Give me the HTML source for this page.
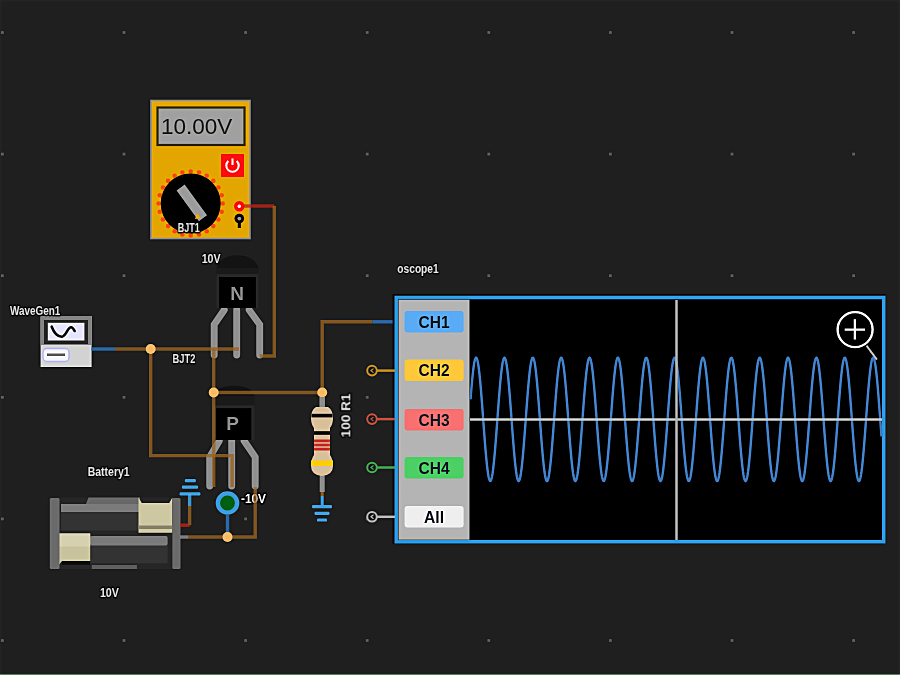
<!DOCTYPE html>
<html><head><meta charset="utf-8"><style>
html,body{margin:0;padding:0;background:#1f1f1f;width:900px;height:675px;overflow:hidden}
svg{display:block;font-family:"Liberation Sans",sans-serif}
</style></head><body>
<svg width="900" height="675" viewBox="0 0 900 675">
<defs><filter id="b1" filterUnits="userSpaceOnUse" x="0" y="0" width="900" height="675" color-interpolation-filters="sRGB"><feGaussianBlur in="SourceGraphic" stdDeviation="0.7" result="a"/><feGaussianBlur in="a" stdDeviation="1.6" result="b"/><feComposite in="a" in2="b" operator="arithmetic" k1="0" k2="1.45" k3="-0.45" k4="0"/></filter>
<filter id="b2" filterUnits="userSpaceOnUse" x="0" y="0" width="900" height="675"><feGaussianBlur stdDeviation="0.55"/></filter></defs>
<g filter="url(#b1)"><rect width="900" height="675" fill="#1f1f1f"/>
<rect x="1.0" y="31.1" width="2.8" height="2.8" fill="#555"/>
<rect x="1.0" y="152.7" width="2.8" height="2.8" fill="#555"/>
<rect x="1.0" y="274.3" width="2.8" height="2.8" fill="#555"/>
<rect x="1.0" y="395.9" width="2.8" height="2.8" fill="#555"/>
<rect x="1.0" y="517.5" width="2.8" height="2.8" fill="#555"/>
<rect x="1.0" y="639.1" width="2.8" height="2.8" fill="#555"/>
<rect x="122.6" y="31.1" width="2.8" height="2.8" fill="#555"/>
<rect x="122.6" y="152.7" width="2.8" height="2.8" fill="#555"/>
<rect x="122.6" y="274.3" width="2.8" height="2.8" fill="#555"/>
<rect x="122.6" y="395.9" width="2.8" height="2.8" fill="#555"/>
<rect x="122.6" y="517.5" width="2.8" height="2.8" fill="#555"/>
<rect x="122.6" y="639.1" width="2.8" height="2.8" fill="#555"/>
<rect x="244.2" y="31.1" width="2.8" height="2.8" fill="#555"/>
<rect x="244.2" y="152.7" width="2.8" height="2.8" fill="#555"/>
<rect x="244.2" y="274.3" width="2.8" height="2.8" fill="#555"/>
<rect x="244.2" y="395.9" width="2.8" height="2.8" fill="#555"/>
<rect x="244.2" y="517.5" width="2.8" height="2.8" fill="#555"/>
<rect x="244.2" y="639.1" width="2.8" height="2.8" fill="#555"/>
<rect x="365.8" y="31.1" width="2.8" height="2.8" fill="#555"/>
<rect x="365.8" y="152.7" width="2.8" height="2.8" fill="#555"/>
<rect x="365.8" y="274.3" width="2.8" height="2.8" fill="#555"/>
<rect x="365.8" y="395.9" width="2.8" height="2.8" fill="#555"/>
<rect x="365.8" y="517.5" width="2.8" height="2.8" fill="#555"/>
<rect x="365.8" y="639.1" width="2.8" height="2.8" fill="#555"/>
<rect x="487.4" y="31.1" width="2.8" height="2.8" fill="#555"/>
<rect x="487.4" y="152.7" width="2.8" height="2.8" fill="#555"/>
<rect x="487.4" y="274.3" width="2.8" height="2.8" fill="#555"/>
<rect x="487.4" y="395.9" width="2.8" height="2.8" fill="#555"/>
<rect x="487.4" y="517.5" width="2.8" height="2.8" fill="#555"/>
<rect x="487.4" y="639.1" width="2.8" height="2.8" fill="#555"/>
<rect x="609.0" y="31.1" width="2.8" height="2.8" fill="#555"/>
<rect x="609.0" y="152.7" width="2.8" height="2.8" fill="#555"/>
<rect x="609.0" y="274.3" width="2.8" height="2.8" fill="#555"/>
<rect x="609.0" y="395.9" width="2.8" height="2.8" fill="#555"/>
<rect x="609.0" y="517.5" width="2.8" height="2.8" fill="#555"/>
<rect x="609.0" y="639.1" width="2.8" height="2.8" fill="#555"/>
<rect x="730.6" y="31.1" width="2.8" height="2.8" fill="#555"/>
<rect x="730.6" y="152.7" width="2.8" height="2.8" fill="#555"/>
<rect x="730.6" y="274.3" width="2.8" height="2.8" fill="#555"/>
<rect x="730.6" y="395.9" width="2.8" height="2.8" fill="#555"/>
<rect x="730.6" y="517.5" width="2.8" height="2.8" fill="#555"/>
<rect x="730.6" y="639.1" width="2.8" height="2.8" fill="#555"/>
<rect x="852.2" y="31.1" width="2.8" height="2.8" fill="#555"/>
<rect x="852.2" y="152.7" width="2.8" height="2.8" fill="#555"/>
<rect x="852.2" y="274.3" width="2.8" height="2.8" fill="#555"/>
<rect x="852.2" y="395.9" width="2.8" height="2.8" fill="#555"/>
<rect x="852.2" y="517.5" width="2.8" height="2.8" fill="#555"/>
<rect x="852.2" y="639.1" width="2.8" height="2.8" fill="#555"/>
<path d="M224.2,310 L214.2,324.5 L214.2,355" stroke="#8e8e8e" stroke-width="6.9" fill="none" stroke-linecap="round"/>
<path d="M236.7,310 L236.7,355" stroke="#8e8e8e" stroke-width="6.9" fill="none" stroke-linecap="round"/>
<path d="M249.2,310 L259.7,324.5 L259.7,355" stroke="#8e8e8e" stroke-width="6.9" fill="none" stroke-linecap="round"/>
<path d="M219.2,441 L209.7,457 L209.7,486" stroke="#8e8e8e" stroke-width="6.9" fill="none" stroke-linecap="round"/>
<path d="M231.7,441 L231.7,486" stroke="#8e8e8e" stroke-width="6.9" fill="none" stroke-linecap="round"/>
<path d="M244.2,441 L255.2,457 L255.2,486" stroke="#8e8e8e" stroke-width="6.9" fill="none" stroke-linecap="round"/>
<path d="M216.4,268.3 C219.76,251 255.04,251 258.4,268.3 Z" fill="#131313"/>
<rect x="216.4" y="268.3" width="41.99999999999997" height="7.699999999999989" fill="#1a1a1a"/>
<rect x="216.4" y="274" width="41.99999999999997" height="34" fill="#262626"/>
<rect x="219" y="277" width="36.80000000000001" height="31" fill="#000"/>
<text x="237.2" y="299.5" font-size="19" font-weight="bold" fill="#858585" text-anchor="middle">N</text>
<path d="M213,395.7 C216.32,382 251.18,382 254.5,395.7 Z" fill="#131313"/>
<rect x="213" y="395.7" width="41.5" height="11.5" fill="#1a1a1a"/>
<rect x="213" y="405.2" width="41.5" height="34.80000000000001" fill="#262626"/>
<rect x="216.1" y="408.2" width="35.20000000000002" height="31.80000000000001" fill="#000"/>
<text x="232.7" y="430.3" font-size="19" font-weight="bold" fill="#858585" text-anchor="middle">P</text>
<rect x="151" y="100.5" width="99" height="138" fill="#e3a600" stroke="#8a8a8a" stroke-width="1.6"/>
<rect x="157.5" y="107.5" width="87" height="37.5" fill="#a0a0a0" stroke="#3a3000" stroke-width="2.2"/>
<text x="161" y="134" font-size="22.5" fill="#262626">10.00V</text>
<rect x="221" y="154" width="23" height="23" fill="#ff1010"/>
<path d="M228.3,161 A6.2,6.2 0 1 0 236.7,161" stroke="#fff" stroke-width="2" fill="none"/>
<path d="M232.5,158.5 L232.5,165" stroke="#fff" stroke-width="2"/>
<circle cx="222.7" cy="203.5" r="2.3" fill="#ff4a10"/>
<circle cx="221.6" cy="211.8" r="2.3" fill="#ff4a10"/>
<circle cx="218.4" cy="219.5" r="2.3" fill="#ff4a10"/>
<circle cx="213.3" cy="226.1" r="2.3" fill="#ff4a10"/>
<circle cx="206.7" cy="231.2" r="2.3" fill="#ff4a10"/>
<circle cx="199.0" cy="234.4" r="2.3" fill="#ff4a10"/>
<circle cx="190.7" cy="235.5" r="2.3" fill="#ff4a10"/>
<circle cx="182.4" cy="234.4" r="2.3" fill="#ff4a10"/>
<circle cx="174.7" cy="231.2" r="2.3" fill="#ff4a10"/>
<circle cx="168.1" cy="226.1" r="2.3" fill="#ff4a10"/>
<circle cx="163.0" cy="219.5" r="2.3" fill="#ff4a10"/>
<circle cx="159.8" cy="211.8" r="2.3" fill="#ff4a10"/>
<circle cx="158.7" cy="203.5" r="2.3" fill="#ff4a10"/>
<circle cx="159.8" cy="195.2" r="2.3" fill="#ff4a10"/>
<circle cx="163.0" cy="187.5" r="2.3" fill="#ff4a10"/>
<circle cx="168.1" cy="180.9" r="2.3" fill="#ff4a10"/>
<circle cx="174.7" cy="175.8" r="2.3" fill="#ff4a10"/>
<circle cx="182.4" cy="172.6" r="2.3" fill="#ff4a10"/>
<circle cx="190.7" cy="171.5" r="2.3" fill="#ff4a10"/>
<circle cx="199.0" cy="172.6" r="2.3" fill="#ff4a10"/>
<circle cx="206.7" cy="175.8" r="2.3" fill="#ff4a10"/>
<circle cx="213.3" cy="180.9" r="2.3" fill="#ff4a10"/>
<circle cx="218.4" cy="187.5" r="2.3" fill="#ff4a10"/>
<circle cx="221.6" cy="195.2" r="2.3" fill="#ff4a10"/>
<circle cx="190.7" cy="203.5" r="30" fill="#000"/>
<g transform="rotate(-36 191.5 202.5)"><rect x="186.5" y="184" width="10" height="38" fill="#9a9a9a"/></g>
<path d="M197,213 L201,218 L195,219 Z" fill="#e3a600"/>
<circle cx="239.3" cy="206.2" r="5.2" fill="#ff1010"/><circle cx="239.3" cy="206.2" r="1.7" fill="#fff"/>
<path d="M239.3,218 L239.3,228" stroke="#000" stroke-width="3"/>
<circle cx="239.3" cy="218.6" r="4.8" fill="#000"/><circle cx="239.3" cy="218.6" r="1.9" fill="#8a8a8a"/>
<rect x="40.6" y="316" width="51" height="51" fill="#d2d2d2"/>
<rect x="40.6" y="316" width="51" height="29" fill="#7e7e7e"/>
<rect x="44" y="320" width="44" height="24" fill="#2a2a2a"/>
<rect x="47.8" y="322.8" width="36.6" height="17.7" fill="#e4e4ff"/>
<path d="M51.7,326.7 C54.5,334 57.5,336.7 61.7,336.7 C66,336.7 67.5,327.2 71.1,327.2 C72.6,327.2 73.6,329 74.6,331" stroke="#1a1a1a" stroke-width="2.6" fill="none" stroke-linecap="round"/>
<rect x="43" y="348.5" width="26" height="13" rx="4" fill="#f2f2ff" stroke="#b8b8f0" stroke-width="1.5"/>
<rect x="47" y="353.5" width="18" height="2.5" fill="#666"/>
<rect x="50" y="497.5" width="130" height="71.5" fill="#262626"/>
<rect x="61" y="504" width="79" height="26.5" fill="#333"/>
<rect x="61" y="504" width="79" height="8" fill="#7a7a7a"/>
<path d="M86,504 L88.5,497.5 L140,497.5 L140,504 Z" fill="#686868"/>
<path d="M138.5,497.5 L141.8,503 L169.2,503 L172.4,497.5 L172.4,532.7 L138.5,532.7 Z" fill="#cdc7a2"/>
<rect x="138.5" y="525.5" width="33.9" height="3.5" fill="#8c846c"/>
<rect x="90" y="536" width="77.6" height="27.4" fill="#333"/>
<rect x="90" y="536" width="77.6" height="9.6" rx="2" fill="#7a7a7a"/>
<path d="M57.9,533.5 L90.2,533.5 L90.2,561 L62,561 L57.9,566 Z" fill="#c9c39d"/>
<rect x="57.9" y="533.5" width="32.3" height="13" fill="#d5d0b0"/>
<rect x="62" y="561" width="28.2" height="4" fill="#111"/>
<rect x="91.8" y="565" width="45.1" height="4" fill="#5a5a5a"/>
<rect x="49.8" y="498" width="9.7" height="71" rx="1.5" fill="#6a6a6a"/>
<rect x="172.4" y="498" width="8.1" height="71" rx="1.5" fill="#6a6a6a"/>
<rect x="184.8" y="479.09999999999997" width="11.099999999999994" height="3.2" rx="1.2" fill="#3a9ad9"/>
<rect x="181.9" y="485.5" width="16.19999999999999" height="3.2" rx="1.2" fill="#3a9ad9"/>
<rect x="179.6" y="492.2" width="20.80000000000001" height="3.2" rx="1.2" fill="#3a9ad9"/>
<text x="241" y="503.3" font-size="12" font-weight="bold" fill="#f0f0f0" stroke="#000" stroke-width="2.8" stroke-linejoin="round" paint-order="stroke" textLength="25" lengthAdjust="spacingAndGlyphs">-10V</text>
<path d="M244,206 L274.3,206" stroke="#be2417" stroke-opacity="0.75" stroke-width="3.4" fill="none" stroke-linejoin="miter"/>
<path d="M274.3,206 L274.3,356 L259.8,356" stroke="#986320" stroke-opacity="0.75" stroke-width="3.4" fill="none" stroke-linejoin="miter"/>
<path d="M91,349 L115,349" stroke="#2b7bcb" stroke-opacity="0.75" stroke-width="3.4" fill="none" stroke-linejoin="miter"/>
<path d="M115,349 L239,349" stroke="#986320" stroke-opacity="0.75" stroke-width="3.4" fill="none" stroke-linejoin="miter"/>
<path d="M150.7,349 L150.7,455.6 L232.2,455.6 L232.2,487" stroke="#986320" stroke-opacity="0.75" stroke-width="3.4" fill="none" stroke-linejoin="miter"/>
<path d="M213.7,349 L213.7,487" stroke="#986320" stroke-opacity="0.75" stroke-width="3.4" fill="none" stroke-linejoin="miter"/>
<path d="M213.7,392.5 L322.2,392.5" stroke="#986320" stroke-opacity="0.75" stroke-width="3.4" fill="none" stroke-linejoin="miter"/>
<path d="M322.2,392.5 L322.2,321.8 L372.4,321.8" stroke="#986320" stroke-opacity="0.75" stroke-width="3.4" fill="none" stroke-linejoin="miter"/>
<path d="M372.4,321.8 L395,321.8" stroke="#2b7bcb" stroke-opacity="0.75" stroke-width="3.4" fill="none" stroke-linejoin="miter"/>
<path d="M255.2,487 L255.2,537 L188.5,537" stroke="#986320" stroke-opacity="0.75" stroke-width="3.4" fill="none" stroke-linejoin="miter"/>
<path d="M180,537 L188.5,537" stroke="#949494" stroke-opacity="0.75" stroke-width="3.4" fill="none" stroke-linejoin="miter"/>
<path d="M227.5,515 L227.5,537" stroke="#2b7bcb" stroke-opacity="0.75" stroke-width="3.4" fill="none" stroke-linejoin="miter"/>
<path d="M189.6,494 L189.6,506" stroke="#46b0f5" stroke-opacity="0.75" stroke-width="3.4" fill="none" stroke-linejoin="miter"/>
<path d="M189.6,506 L189.6,525.2" stroke="#986320" stroke-opacity="0.75" stroke-width="3.4" fill="none" stroke-linejoin="miter"/>
<path d="M180,525.2 L189.6,525.2" stroke="#be2417" stroke-opacity="0.75" stroke-width="3.4" fill="none" stroke-linejoin="miter"/>
<circle cx="150.7" cy="349" r="5" fill="#f3b865"/>
<circle cx="213.7" cy="392.5" r="5" fill="#f3b865"/>
<circle cx="322.2" cy="392.5" r="5" fill="#f3b865"/>
<circle cx="227.5" cy="537" r="5" fill="#f3b865"/>
<circle cx="227.5" cy="503" r="9.6" fill="#006014" stroke="#3a9ad9" stroke-width="4.4"/>
<path d="M322.2,397 L322.2,410" stroke="#8a8a8a" stroke-width="5.5"/>
<path d="M322.2,474 L322.2,492" stroke="#8a8a8a" stroke-width="5"/>
<path d="M322.2,492 L322.2,496" stroke="#8c5a1e" stroke-width="3"/>
<path d="M322.2,496 L322.2,506" stroke="#3a9ad9" stroke-width="3"/>
<path d="M316,407 Q311,410 311,418 Q311,424 314,428 L314,455 Q311,459 311,466 Q311,475 322,476 Q333,475 333,466 Q333,459 330,455 L330,428 Q333,424 333,418 Q333,410 328,407 Z" fill="#d8bf9a"/>
<rect x="311.5" y="413.8" width="21" height="3.6" fill="#0a0a0a"/>
<rect x="314" y="431.2" width="16" height="3.6" fill="#0a0a0a"/>
<rect x="314" y="439.5" width="16" height="2.8" fill="#c8302a"/>
<rect x="314" y="443.6" width="16" height="2.8" fill="#c8302a"/>
<rect x="314" y="447.7" width="16" height="2.8" fill="#c8302a"/>
<rect x="311" y="460.5" width="22" height="5.5" fill="#ffcc00"/>
<rect x="312" y="505.09999999999997" width="20" height="3.2" rx="1.2" fill="#3a9ad9"/>
<rect x="314.5" y="511.69999999999993" width="15.0" height="3.2" rx="1.2" fill="#3a9ad9"/>
<rect x="317" y="518.4" width="10" height="3.2" rx="1.2" fill="#3a9ad9"/>
<rect x="392.6" y="294" width="493" height="250" fill="#120c06"/>
<rect x="396.3" y="297.5" width="487.4" height="244.2" fill="#000" stroke="#2b96de" stroke-width="3.6"/>
<rect x="398.5" y="299.7" width="71" height="240" fill="#b4b4b4"/>
<rect x="404.6" y="311" width="59" height="21.5" rx="3" fill="#5aabf5"/>
<text x="418.5" y="327.8" font-size="16.5" font-weight="bold" fill="#1a222c" textLength="31" lengthAdjust="spacingAndGlyphs">CH1</text>
<rect x="404.6" y="359.6" width="59" height="21.5" rx="3" fill="#ffc83a"/>
<text x="418.5" y="376.40000000000003" font-size="16.5" font-weight="bold" fill="#1a222c" textLength="31" lengthAdjust="spacingAndGlyphs">CH2</text>
<rect x="404.6" y="409" width="59" height="21.5" rx="3" fill="#f87070"/>
<text x="418.5" y="425.8" font-size="16.5" font-weight="bold" fill="#1a222c" textLength="31" lengthAdjust="spacingAndGlyphs">CH3</text>
<rect x="404.6" y="457" width="59" height="21.5" rx="3" fill="#4ccf64"/>
<text x="418.5" y="473.8" font-size="16.5" font-weight="bold" fill="#1a222c" textLength="31" lengthAdjust="spacingAndGlyphs">CH4</text>
<rect x="404.6" y="506" width="59" height="21.5" rx="3" fill="#eeeeee"/>
<text x="424.0" y="522.8" font-size="16.5" font-weight="bold" fill="#1a222c" textLength="20" lengthAdjust="spacingAndGlyphs">All</text>
<path d="M372,370.6 L395,370.6" stroke="#b8861e" stroke-width="2.5"/>
<circle cx="372" cy="370.6" r="4.8" fill="#1e1e1e" stroke="#b8861e" stroke-width="2"/>
<path d="M373.5,368.6 L371,370.6 L373.5,372.6" stroke="#b8861e" stroke-width="1.2" fill="none"/>
<path d="M372,419.1 L395,419.1" stroke="#b84a3a" stroke-width="2.5"/>
<circle cx="372" cy="419.1" r="4.8" fill="#1e1e1e" stroke="#b84a3a" stroke-width="2"/>
<path d="M373.5,417.1 L371,419.1 L373.5,421.1" stroke="#b84a3a" stroke-width="1.2" fill="none"/>
<path d="M372,467.5 L395,467.5" stroke="#3aa04a" stroke-width="2.5"/>
<circle cx="372" cy="467.5" r="4.8" fill="#1e1e1e" stroke="#3aa04a" stroke-width="2"/>
<path d="M373.5,465.5 L371,467.5 L373.5,469.5" stroke="#3aa04a" stroke-width="1.2" fill="none"/>
<path d="M372,516.8 L395,516.8" stroke="#aaaaaa" stroke-width="2.5"/>
<circle cx="372" cy="516.8" r="4.8" fill="#1e1e1e" stroke="#aaaaaa" stroke-width="2"/>
<path d="M373.5,514.8 L371,516.8 L373.5,518.8" stroke="#aaaaaa" stroke-width="1.2" fill="none"/>
<path d="M470.50,399.43 L471.00,393.11 L471.50,387.12 L472.00,381.51 L472.50,376.38 L473.00,371.77 L473.50,367.74 L474.00,364.35 L474.50,361.63 L475.00,359.62 L475.50,358.34 L476.00,357.82 L476.50,358.04 L477.00,359.02 L477.50,360.74 L478.00,363.18 L478.50,366.30 L479.00,370.08 L479.50,374.47 L480.00,379.40 L480.50,384.82 L481.00,390.67 L481.50,396.87 L482.00,403.35 L482.50,410.02 L483.00,416.81 L483.50,423.63 L484.00,430.40 L484.50,437.03 L485.00,443.45 L485.50,449.57 L486.00,455.32 L486.50,460.63 L487.00,465.44 L487.50,469.68 L488.00,473.31 L488.50,476.27 L489.00,478.54 L489.50,480.08 L490.00,480.88 L490.50,480.93 L491.00,480.22 L491.50,478.76 L492.00,476.58 L492.50,473.70 L493.00,470.15 L493.50,465.98 L494.00,461.24 L494.50,455.98 L495.00,450.28 L495.50,444.20 L496.00,437.81 L496.50,431.20 L497.00,424.44 L497.50,417.63 L498.00,410.83 L498.50,404.14 L499.00,397.63 L499.50,391.40 L500.00,385.50 L500.50,380.03 L501.00,375.03 L501.50,370.58 L502.00,366.72 L502.50,363.52 L503.00,360.99 L503.50,359.19 L504.00,358.12 L504.50,357.80 L505.00,358.24 L505.50,359.43 L506.00,361.35 L506.50,363.99 L507.00,367.30 L507.50,371.25 L508.00,375.79 L508.50,380.87 L509.00,386.42 L509.50,392.37 L510.00,398.66 L510.50,405.20 L511.00,411.91 L511.50,418.72 L512.00,425.53 L512.50,432.27 L513.00,438.85 L513.50,445.19 L514.00,451.22 L514.50,456.85 L515.00,462.03 L515.50,466.69 L516.00,470.76 L516.50,474.21 L517.00,476.98 L517.50,479.05 L518.00,480.38 L518.50,480.97 L519.00,480.80 L519.50,479.89 L520.00,478.22 L520.50,475.84 L521.00,472.77 L521.50,469.04 L522.00,464.71 L522.50,459.81 L523.00,454.43 L523.50,448.61 L524.00,442.44 L524.50,435.98 L525.00,429.32 L525.50,422.54 L526.00,415.72 L526.50,408.94 L527.00,402.30 L527.50,395.86 L528.00,389.71 L528.50,383.92 L529.00,378.58 L529.50,373.73 L530.00,369.44 L530.50,365.76 L531.00,362.74 L531.50,360.42 L532.00,358.81 L532.50,357.95 L533.00,357.85 L533.50,358.50 L534.00,359.89 L534.50,362.02 L535.00,364.85 L535.50,368.34 L536.00,372.47 L536.50,377.16 L537.00,382.38 L537.50,388.05 L538.00,394.10 L538.50,400.47 L539.00,407.06 L539.50,413.81 L540.00,420.63 L540.50,427.43 L541.00,434.13 L541.50,440.65 L542.00,446.91 L542.50,452.84 L543.00,458.35 L543.50,463.39 L544.00,467.89 L544.50,471.79 L545.00,475.05 L545.50,477.63 L546.00,479.49 L546.50,480.62 L547.00,481.00 L547.50,480.62 L548.00,479.49 L548.50,477.63 L549.00,475.05 L549.50,471.79 L550.00,467.89 L550.50,463.39 L551.00,458.35 L551.50,452.84 L552.00,446.91 L552.50,440.65 L553.00,434.13 L553.50,427.43 L554.00,420.63 L554.50,413.81 L555.00,407.06 L555.50,400.47 L556.00,394.10 L556.50,388.05 L557.00,382.38 L557.50,377.16 L558.00,372.47 L558.50,368.34 L559.00,364.85 L559.50,362.02 L560.00,359.89 L560.50,358.50 L561.00,357.85 L561.50,357.95 L562.00,358.81 L562.50,360.42 L563.00,362.74 L563.50,365.76 L564.00,369.44 L564.50,373.73 L565.00,378.58 L565.50,383.92 L566.00,389.71 L566.50,395.86 L567.00,402.30 L567.50,408.94 L568.00,415.72 L568.50,422.54 L569.00,429.32 L569.50,435.98 L570.00,442.44 L570.50,448.61 L571.00,454.43 L571.50,459.81 L572.00,464.71 L572.50,469.04 L573.00,472.77 L573.50,475.84 L574.00,478.22 L574.50,479.89 L575.00,480.80 L575.50,480.97 L576.00,480.38 L576.50,479.05 L577.00,476.98 L577.50,474.21 L578.00,470.76 L578.50,466.69 L579.00,462.03 L579.50,456.85 L580.00,451.22 L580.50,445.19 L581.00,438.85 L581.50,432.27 L582.00,425.53 L582.50,418.72 L583.00,411.91 L583.50,405.20 L584.00,398.66 L584.50,392.37 L585.00,386.42 L585.50,380.87 L586.00,375.79 L586.50,371.25 L587.00,367.30 L587.50,363.99 L588.00,361.35 L588.50,359.43 L589.00,358.24 L589.50,357.80 L590.00,358.12 L590.50,359.19 L591.00,360.99 L591.50,363.52 L592.00,366.72 L592.50,370.58 L593.00,375.03 L593.50,380.03 L594.00,385.50 L594.50,391.40 L595.00,397.63 L595.50,404.14 L596.00,410.83 L596.50,417.63 L597.00,424.44 L597.50,431.20 L598.00,437.81 L598.50,444.20 L599.00,450.28 L599.50,455.98 L600.00,461.24 L600.50,465.98 L601.00,470.15 L601.50,473.70 L602.00,476.58 L602.50,478.76 L603.00,480.22 L603.50,480.93 L604.00,480.88 L604.50,480.08 L605.00,478.54 L605.50,476.27 L606.00,473.31 L606.50,469.68 L607.00,465.44 L607.50,460.63 L608.00,455.32 L608.50,449.57 L609.00,443.45 L609.50,437.03 L610.00,430.40 L610.50,423.63 L611.00,416.81 L611.50,410.02 L612.00,403.35 L612.50,396.87 L613.00,390.67 L613.50,384.82 L614.00,379.40 L614.50,374.47 L615.00,370.08 L615.50,366.30 L616.00,363.18 L616.50,360.74 L617.00,359.02 L617.50,358.04 L618.00,357.82 L618.50,358.34 L619.00,359.62 L619.50,361.63 L620.00,364.35 L620.50,367.74 L621.00,371.77 L621.50,376.38 L622.00,381.51 L622.50,387.12 L623.00,393.11 L623.50,399.43 L624.00,406.00 L624.50,412.73 L625.00,419.54 L625.50,426.35 L626.00,433.07 L626.50,439.63 L627.00,445.93 L627.50,451.92 L628.00,457.50 L628.50,462.62 L629.00,467.21 L629.50,471.21 L630.00,474.57 L630.50,477.26 L631.00,479.25 L631.50,480.49 L632.00,480.99 L632.50,480.73 L633.00,479.72 L633.50,477.98 L634.00,475.51 L634.50,472.36 L635.00,468.55 L635.50,464.15 L636.00,459.19 L636.50,453.75 L637.00,447.89 L637.50,441.67 L638.00,435.19 L638.50,428.51 L639.00,421.72 L639.50,414.90 L640.00,408.14 L640.50,401.51 L641.00,395.10 L641.50,388.99 L642.00,383.26 L642.50,377.97 L643.00,373.18 L643.50,368.96 L644.00,365.36 L644.50,362.42 L645.00,360.18 L645.50,358.67 L646.00,357.90 L646.50,357.89 L647.00,358.63 L647.50,360.11 L648.00,362.32 L648.50,365.23 L649.00,368.81 L649.50,373.00 L650.00,377.76 L650.50,383.04 L651.00,388.76 L651.50,394.85 L652.00,401.25 L652.50,407.87 L653.00,414.63 L653.50,421.45 L654.00,428.24 L654.50,434.93 L655.00,441.42 L655.50,447.65 L656.00,453.52 L656.50,458.98 L657.00,463.96 L657.50,468.39 L658.00,472.22 L658.50,475.40 L659.00,477.89 L659.50,479.67 L660.00,480.71 L660.50,480.99 L661.00,480.53 L661.50,479.31 L662.00,477.36 L662.50,474.70 L663.00,471.35 L663.50,467.38 L664.00,462.81 L664.50,457.72 L665.00,452.15 L665.50,446.18 L666.00,439.88 L666.50,433.34 L667.00,426.62 L667.50,419.81 L668.00,413.00 L668.50,406.26 L669.00,399.69 L669.50,393.36 L670.00,387.35 L670.50,381.73 L671.00,376.57 L671.50,371.94 L672.00,367.89 L672.50,364.47 L673.00,361.73 L673.50,359.69 L674.00,358.38 L674.50,357.82 L675.00,358.02 L675.50,358.97 L676.00,360.66 L676.50,363.07 L677.00,366.17 L677.50,369.92 L678.00,374.28 L678.50,379.19 L679.00,384.60 L679.50,390.43 L680.00,396.62 L680.50,403.08 L681.00,409.75 L681.50,416.54 L682.00,423.36 L682.50,430.13 L683.00,436.77 L683.50,443.19 L684.00,449.33 L684.50,455.10 L685.00,460.43 L685.50,465.26 L686.00,469.52 L686.50,473.17 L687.00,476.17 L687.50,478.46 L688.00,480.03 L688.50,480.86 L689.00,480.94 L689.50,480.26 L690.00,478.84 L690.50,476.68 L691.00,473.83 L691.50,470.30 L692.00,466.16 L692.50,461.44 L693.00,456.20 L693.50,450.51 L694.00,444.45 L694.50,438.07 L695.00,431.47 L695.50,424.72 L696.00,417.90 L696.50,411.10 L697.00,404.40 L697.50,397.89 L698.00,391.64 L698.50,385.73 L699.00,380.24 L699.50,375.22 L700.00,370.74 L700.50,366.87 L701.00,363.63 L701.50,361.08 L702.00,359.25 L702.50,358.15 L703.00,357.80 L703.50,358.21 L704.00,359.37 L704.50,361.26 L705.00,363.87 L705.50,367.15 L706.00,371.08 L706.50,375.60 L707.00,380.66 L707.50,386.19 L708.00,392.13 L708.50,398.40 L709.00,404.93 L709.50,411.64 L710.00,418.44 L710.50,425.26 L711.00,432.00 L711.50,438.59 L712.00,444.94 L712.50,450.98 L713.00,456.64 L713.50,461.83 L714.00,466.51 L714.50,470.61 L715.00,474.08 L715.50,476.88 L716.00,478.98 L716.50,480.34 L717.00,480.96 L717.50,480.83 L718.00,479.94 L718.50,478.31 L719.00,475.95 L719.50,472.91 L720.00,469.20 L720.50,464.89 L721.00,460.02 L721.50,454.65 L722.00,448.85 L722.50,442.69 L723.00,436.24 L723.50,429.59 L724.00,422.81 L724.50,415.99 L725.00,409.21 L725.50,402.56 L726.00,396.11 L726.50,389.95 L727.00,384.15 L727.50,378.78 L728.00,373.91 L728.50,369.60 L729.00,365.89 L729.50,362.85 L730.00,360.49 L730.50,358.86 L731.00,357.97 L731.50,357.84 L732.00,358.46 L732.50,359.82 L733.00,361.92 L733.50,364.72 L734.00,368.19 L734.50,372.29 L735.00,376.97 L735.50,382.16 L736.00,387.82 L736.50,393.86 L737.00,400.21 L737.50,406.80 L738.00,413.54 L738.50,420.36 L739.00,427.16 L739.50,433.87 L740.00,440.40 L740.50,446.67 L741.00,452.61 L741.50,458.14 L742.00,463.20 L742.50,467.72 L743.00,471.65 L743.50,474.93 L744.00,477.54 L744.50,479.43 L745.00,480.59 L745.50,481.00 L746.00,480.65 L746.50,479.55 L747.00,477.72 L747.50,475.17 L748.00,471.93 L748.50,468.06 L749.00,463.58 L749.50,458.56 L750.00,453.07 L750.50,447.16 L751.00,440.91 L751.50,434.40 L752.00,427.70 L752.50,420.90 L753.00,414.08 L753.50,407.33 L754.00,400.73 L754.50,394.35 L755.00,388.29 L755.50,382.60 L756.00,377.36 L756.50,372.64 L757.00,368.50 L757.50,364.97 L758.00,362.12 L758.50,359.96 L759.00,358.54 L759.50,357.86 L760.00,357.94 L760.50,358.77 L761.00,360.34 L761.50,362.63 L762.00,365.63 L762.50,369.28 L763.00,373.54 L763.50,378.37 L764.00,383.70 L764.50,389.47 L765.00,395.61 L765.50,402.03 L766.00,408.67 L766.50,415.44 L767.00,422.26 L767.50,429.05 L768.00,435.72 L768.50,442.18 L769.00,448.37 L769.50,454.20 L770.00,459.61 L770.50,464.52 L771.00,468.88 L771.50,472.63 L772.00,475.73 L772.50,478.14 L773.00,479.83 L773.50,480.78 L774.00,480.98 L774.50,480.42 L775.00,479.11 L775.50,477.07 L776.00,474.33 L776.50,470.91 L777.00,466.86 L777.50,462.23 L778.00,457.07 L778.50,451.45 L779.00,445.44 L779.50,439.11 L780.00,432.54 L780.50,425.80 L781.00,418.99 L781.50,412.18 L782.00,405.46 L782.50,398.92 L783.00,392.62 L783.50,386.65 L784.00,381.08 L784.50,375.99 L785.00,371.42 L785.50,367.45 L786.00,364.10 L786.50,361.44 L787.00,359.49 L787.50,358.27 L788.00,357.81 L788.50,358.09 L789.00,359.13 L789.50,360.91 L790.00,363.40 L790.50,366.58 L791.00,370.41 L791.50,374.84 L792.00,379.82 L792.50,385.28 L793.00,391.15 L793.50,397.38 L794.00,403.87 L794.50,410.56 L795.00,417.35 L795.50,424.17 L796.00,430.93 L796.50,437.55 L797.00,443.95 L797.50,450.04 L798.00,455.76 L798.50,461.04 L799.00,465.80 L799.50,469.99 L800.00,473.57 L800.50,476.48 L801.00,478.69 L801.50,480.17 L802.00,480.91 L802.50,480.90 L803.00,480.13 L803.50,478.62 L804.00,476.38 L804.50,473.44 L805.00,469.84 L805.50,465.62 L806.00,460.83 L806.50,455.54 L807.00,449.81 L807.50,443.70 L808.00,437.29 L808.50,430.66 L809.00,423.90 L809.50,417.08 L810.00,410.29 L810.50,403.61 L811.00,397.13 L811.50,390.91 L812.00,385.05 L812.50,379.61 L813.00,374.65 L813.50,370.25 L814.00,366.44 L814.50,363.29 L815.00,360.82 L815.50,359.08 L816.00,358.07 L816.50,357.81 L817.00,358.31 L817.50,359.55 L818.00,361.54 L818.50,364.23 L819.00,367.59 L819.50,371.59 L820.00,376.18 L820.50,381.30 L821.00,386.88 L821.50,392.87 L822.00,399.17 L822.50,405.73 L823.00,412.45 L823.50,419.26 L824.00,426.07 L824.50,432.80 L825.00,439.37 L825.50,445.69 L826.00,451.68 L826.50,457.29 L827.00,462.42 L827.50,467.03 L828.00,471.06 L828.50,474.45 L829.00,477.17 L829.50,479.18 L830.00,480.46 L830.50,480.98 L831.00,480.76 L831.50,479.78 L832.00,478.06 L832.50,475.62 L833.00,472.50 L833.50,468.72 L834.00,464.33 L834.50,459.40 L835.00,453.98 L835.50,448.13 L836.00,441.93 L836.50,435.45 L837.00,428.78 L837.50,421.99 L838.00,415.17 L838.50,408.40 L839.00,401.77 L839.50,395.35 L840.00,389.23 L840.50,383.48 L841.00,378.17 L841.50,373.36 L842.00,369.12 L842.50,365.49 L843.00,362.53 L843.50,360.26 L844.00,358.72 L844.50,357.92 L845.00,357.87 L845.50,358.58 L846.00,360.04 L846.50,362.22 L847.00,365.10 L847.50,368.65 L848.00,372.82 L848.50,377.56 L849.00,382.82 L849.50,388.52 L850.00,394.60 L850.50,400.99 L851.00,407.60 L851.50,414.36 L852.00,421.17 L852.50,427.97 L853.00,434.66 L853.50,441.17 L854.00,447.40 L854.50,453.30 L855.00,458.77 L855.50,463.77 L856.00,468.22 L856.50,472.08 L857.00,475.28 L857.50,477.81 L858.00,479.61 L858.50,480.68 L859.00,481.00 L859.50,480.56 L860.00,479.37 L860.50,477.45 L861.00,474.81 L861.50,471.50 L862.00,467.55 L862.50,463.01 L863.00,457.93 L863.50,452.38 L864.00,446.43 L864.50,440.14 L865.00,433.60 L865.50,426.89 L866.00,420.08 L866.50,413.27 L867.00,406.53 L867.50,399.95 L868.00,393.61 L868.50,387.58 L869.00,381.95 L869.50,376.77 L870.00,372.11 L870.50,368.04 L871.00,364.59 L871.50,361.82 L872.00,359.75 L872.50,358.42 L873.00,357.83 L873.50,358.00 L874.00,358.91 L874.50,360.58 L875.00,362.96 L875.50,366.03 L876.00,369.76 L876.50,374.09 L877.00,378.99 L877.50,384.37 L878.00,390.19 L878.50,396.36 L879.00,402.82 L879.50,409.48 L880.00,416.26 L880.50,423.08 L881.00,429.86 L881.50,436.50" stroke="#3a74b6" stroke-width="2.5" fill="none"/>
<path d="M470,419.4 L882,419.4" stroke="#bdbdbd" stroke-width="2.5"/>
<path d="M676.5,300 L676.5,540" stroke="#a8a8a8" stroke-width="2.5"/>
<circle cx="855.1" cy="329.6" r="17.5" stroke="#e8e8e8" stroke-width="2.4" fill="none"/>
<path d="M844.7,329.6 L865,329.6 M854.9,319.2 L854.9,339.4" stroke="#e8e8e8" stroke-width="2.4"/>
<path d="M866.5,345.6 L876.9,359.6" stroke="#b0b0b0" stroke-width="2"/>
<rect x="0" y="674" width="900" height="1" fill="#406644"/>
</g>
<g filter="url(#b2)">
<text x="177.7" y="231.8" font-size="12" font-weight="bold" fill="#f0f0f0" stroke="#000" stroke-width="2.8" stroke-linejoin="round" paint-order="stroke" textLength="22" lengthAdjust="spacingAndGlyphs">BJT1</text>
<text x="9.9" y="314.8" font-size="12" font-weight="bold" fill="#f0f0f0" stroke="#000" stroke-width="2.8" stroke-linejoin="round" paint-order="stroke" textLength="50.4" lengthAdjust="spacingAndGlyphs">WaveGen1</text>
<text x="172.6" y="363.2" font-size="12" font-weight="bold" fill="#f0f0f0" stroke="#000" stroke-width="2.8" stroke-linejoin="round" paint-order="stroke" textLength="22.8" lengthAdjust="spacingAndGlyphs">BJT2</text>
<text x="201.7" y="262.6" font-size="12" font-weight="bold" fill="#f0f0f0" stroke="#000" stroke-width="2.8" stroke-linejoin="round" paint-order="stroke" textLength="18.9" lengthAdjust="spacingAndGlyphs">10V</text>
<text x="87.7" y="476.3" font-size="12" font-weight="bold" fill="#f0f0f0" stroke="#000" stroke-width="2.8" stroke-linejoin="round" paint-order="stroke" textLength="42" lengthAdjust="spacingAndGlyphs">Battery1</text>
<text x="99.9" y="596.8" font-size="12" font-weight="bold" fill="#f0f0f0" stroke="#000" stroke-width="2.8" stroke-linejoin="round" paint-order="stroke" textLength="19" lengthAdjust="spacingAndGlyphs">10V</text>
<text x="350.6" y="437.3" font-size="12" font-weight="bold" fill="#f0f0f0" stroke="#000" stroke-width="2.8" stroke-linejoin="round" paint-order="stroke" textLength="43.7" lengthAdjust="spacingAndGlyphs" transform="rotate(-90 350.6 437.3)">100 R1</text>
<text x="397.3" y="273.3" font-size="12" font-weight="bold" fill="#f0f0f0" stroke="#000" stroke-width="2.8" stroke-linejoin="round" paint-order="stroke" textLength="41.4" lengthAdjust="spacingAndGlyphs">oscope1</text>
</g>
</svg></body></html>
